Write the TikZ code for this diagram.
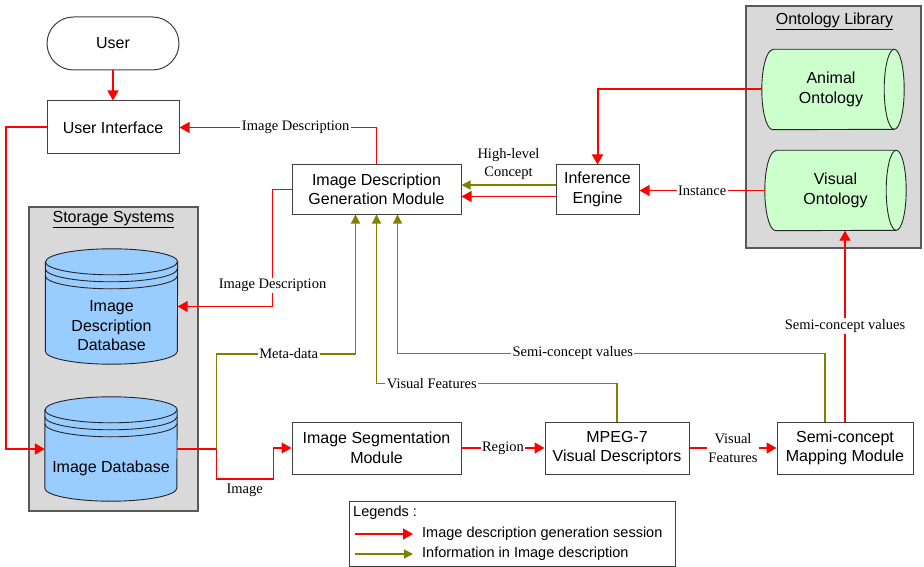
\documentclass[tikz,border=0pt]{standalone}
\usepackage{fontspec}
\setmainfont{Liberation Serif}
\setsansfont{Liberation Sans}
\usetikzlibrary{arrows.meta,positioning}
\definecolor{flowred}{RGB}{255,0,0}
\definecolor{infoolive}{RGB}{128,128,0}
\definecolor{dbblue}{RGB}{153,204,255}
\definecolor{ontgreen}{RGB}{204,255,204}
\definecolor{panelgray}{RGB}{217,217,217}
% database drum around an empty node
\newcommand{\dbdrum}[1]{%
  \draw[drumline,fill=dbblue] ([yshift=-13pt]#1.north west) -- ([yshift=13pt]#1.south west)
    arc[start angle=180,end angle=360,x radius=66pt,y radius=13pt]
    -- ([yshift=-13pt]#1.north east)
    arc[start angle=0,end angle=180,x radius=66pt,y radius=13pt] -- cycle;
  \foreach \dy in {13pt,20pt,27pt}
    \draw[drumline] ([yshift=-\dy]#1.north west) arc[start angle=180,end angle=360,x radius=66pt,y radius=13pt];
}
% lying drum for an ontology
\newcommand{\ontdrum}[1]{%
  \draw[drumline,fill=ontgreen] ([xshift=11pt]#1.north west) -- ([xshift=-10pt]#1.north east)
    arc[start angle=90,end angle=-90,x radius=10pt,y radius=40pt]
    -- ([xshift=11pt]#1.south west)
    arc[start angle=270,end angle=90,x radius=11pt,y radius=40pt] -- cycle;
  \draw[drumline] ([xshift=-10pt]#1.north east) arc[start angle=90,end angle=270,x radius=10pt,y radius=40pt];
}

\begin{document}
\begin{tikzpicture}[x=1pt,y=-1pt,
    box/.style={draw=black!75,line width=1pt,fill=white,align=center,inner sep=2pt,
      font=\sffamily\fontsize{16}{19.5}\selectfont},
    hold/.style={inner sep=0pt},
    inside/.style={align=center,font=\sffamily\fontsize{16}{19.5}\selectfont},
    drumline/.style={draw=black!85,line width=0.9pt},
    panel/.style={fill=panelgray,draw=black!65,line width=1.2pt},
    redflow/.style={draw=flowred,line width=1.3pt,-{Triangle[length=10pt,width=11pt,fill=flowred]}},
    infoflow/.style={draw=infoolive,line width=1.3pt,-{Triangle[length=9pt,width=9pt,fill=infoolive]}},
    lbl/.style={fill=white,text=black,inner sep=1.5pt,align=center,font=\rmfamily\fontsize{14.5}{18.5}\selectfont},
    legtext/.style={inner sep=2pt,font=\sffamily\fontsize{14.5}{17}\selectfont}]
  \useasboundingbox (0,0) rectangle (924,567);
  % Panels
  \draw[panel] (29,207) rectangle (198,511);
  \draw[panel] (746,6) rectangle (921,248);
  \node[inside] (storetitle) at (113.5,220) {\underline{Storage Systems}};
  \node[inside] (onttitle) at (834.5,21) {\underline{Ontology Library}};
  % Drums
  \node[hold,minimum width=132pt,minimum height=115pt] (iddb) at (111.5,306.5) {};
  \dbdrum{iddb}
  \node[inside] (iddbtext) at ([yshift=-19.5pt]iddb.center) {Image\\Description\\Database};
  \node[hold,minimum width=132pt,minimum height=104pt] (imgdb) at (111,449) {};
  \dbdrum{imgdb}
  \node[inside] (imgdbtext) at ([yshift=-19pt]imgdb.center) {Image Database};
  \node[hold,minimum width=142pt,minimum height=80pt] (animal) at (833,89.5) {};
  \ontdrum{animal}
  \node[inside] (animaltext) at ([xshift=-2pt]animal.center) {Animal\\Ontology};
  \node[hold,minimum width=141pt,minimum height=80pt] (visual) at (835.5,190.5) {};
  \ontdrum{visual}
  \node[inside] (visualtext) at (visual.center) {Visual\\Ontology};
  % Modules
  \node[box,rounded corners=26.5pt,minimum width=132pt,minimum height=53pt] (user) at (113,43.5) {User};
  \node[box,minimum width=132pt,minimum height=53pt] (ui) at (113,127.5) {User Interface};
  \node[box,minimum width=169pt,minimum height=49pt] (idgm) at (376.5,189.5) {Image Description\\Generation Module};
  \node[box,minimum width=83pt,minimum height=49pt] (ie) at (597.5,189.5) {Inference\\Engine};
  \node[box,minimum width=169pt,minimum height=52pt] (ism) at (376.5,448) {Image Segmentation\\Module};
  \node[box,minimum width=144pt,minimum height=52pt] (mpeg) at (617,448) {MPEG-7\\Visual Descriptors};
  \node[box,minimum width=136pt,minimum height=52pt] (scmm) at (845,448) {Semi-concept\\Mapping Module};
  % Red session flow
  \draw[redflow] (user) -- (ui);
  \draw[redflow,line width=2pt] (ui.west) -- ++(-41,0) |- (imgdb.west);
  \draw[redflow] (idgm.north) |- node[lbl,pos=0.705]{Image Description} (ui.east);
  \draw[redflow] (idgm.west) -- ++(-19,0) |- node[lbl,pos=0.41]{Image Description} (iddb.east);
  \draw[redflow] (imgdb.east) -- ++(39,0) coordinate (dbsplit) -- ++(0,30)
    -- node[lbl,below=1pt,yshift=-2pt,fill=none]{Image} ++(57,0) |- (ism.west);
  \draw[redflow] (ism.east) -- node[lbl]{Region} (mpeg.west);
  \draw[redflow] (mpeg.east) -- node[lbl]{Visual\\Features} (scmm.west);
  \draw[redflow] (scmm.north) -- node[lbl]{Semi-concept values} (scmm.north |- visual.south);
  \draw[redflow,line width=2pt] (animal.west) -| (ie.north);
  \draw[redflow] (visual.west) -- node[lbl]{Instance} (visual.west -| ie.east);
  \draw[redflow] ([yshift=-7pt]ie.west) -- ([yshift=-7pt]idgm.east);
  % Olive information flow
  \draw[infoflow] ([yshift=4.5pt]ie.west) -- node[lbl,above=3pt,fill=none]{High-level\\Concept} ([yshift=4.5pt]idgm.east);
  \draw[infoflow] (dbsplit) -- ++(0,-95) -| node[lbl,pos=0.26]{Meta-data} ([xshift=-21pt]idgm.south);
  \draw[infoflow] (mpeg.north) -- ++(0,-38) -| node[lbl,pos=0.385]{Visual Features} (idgm.south);
  \draw[infoflow] ([xshift=-20pt]scmm.north) -- ++(0,-68) -| node[lbl,pos=0.295]{Semi-concept values} ([xshift=21pt]idgm.south);
  % Legend
  \node[draw=black!75,line width=1pt,minimum width=326pt,minimum height=65pt,inner sep=0pt] (legend) at (512,533.5) {};
  \node[legtext,anchor=west] (legtitle) at (351,513) {Legends :};
  \coordinate (legredA) at (355,534);
  \coordinate (legredB) at (413,534);
  \draw[redflow] (legredA) -- (legredB);
  \node[legtext,anchor=west] (legred) at (420,534) {Image description generation session};
  \coordinate (legoliveA) at (355,554);
  \coordinate (legoliveB) at (413,554);
  \draw[infoflow] (legoliveA) -- (legoliveB);
  \node[legtext,anchor=west] (legolive) at (420,554) {Information in Image description};
\end{tikzpicture}
\end{document}
